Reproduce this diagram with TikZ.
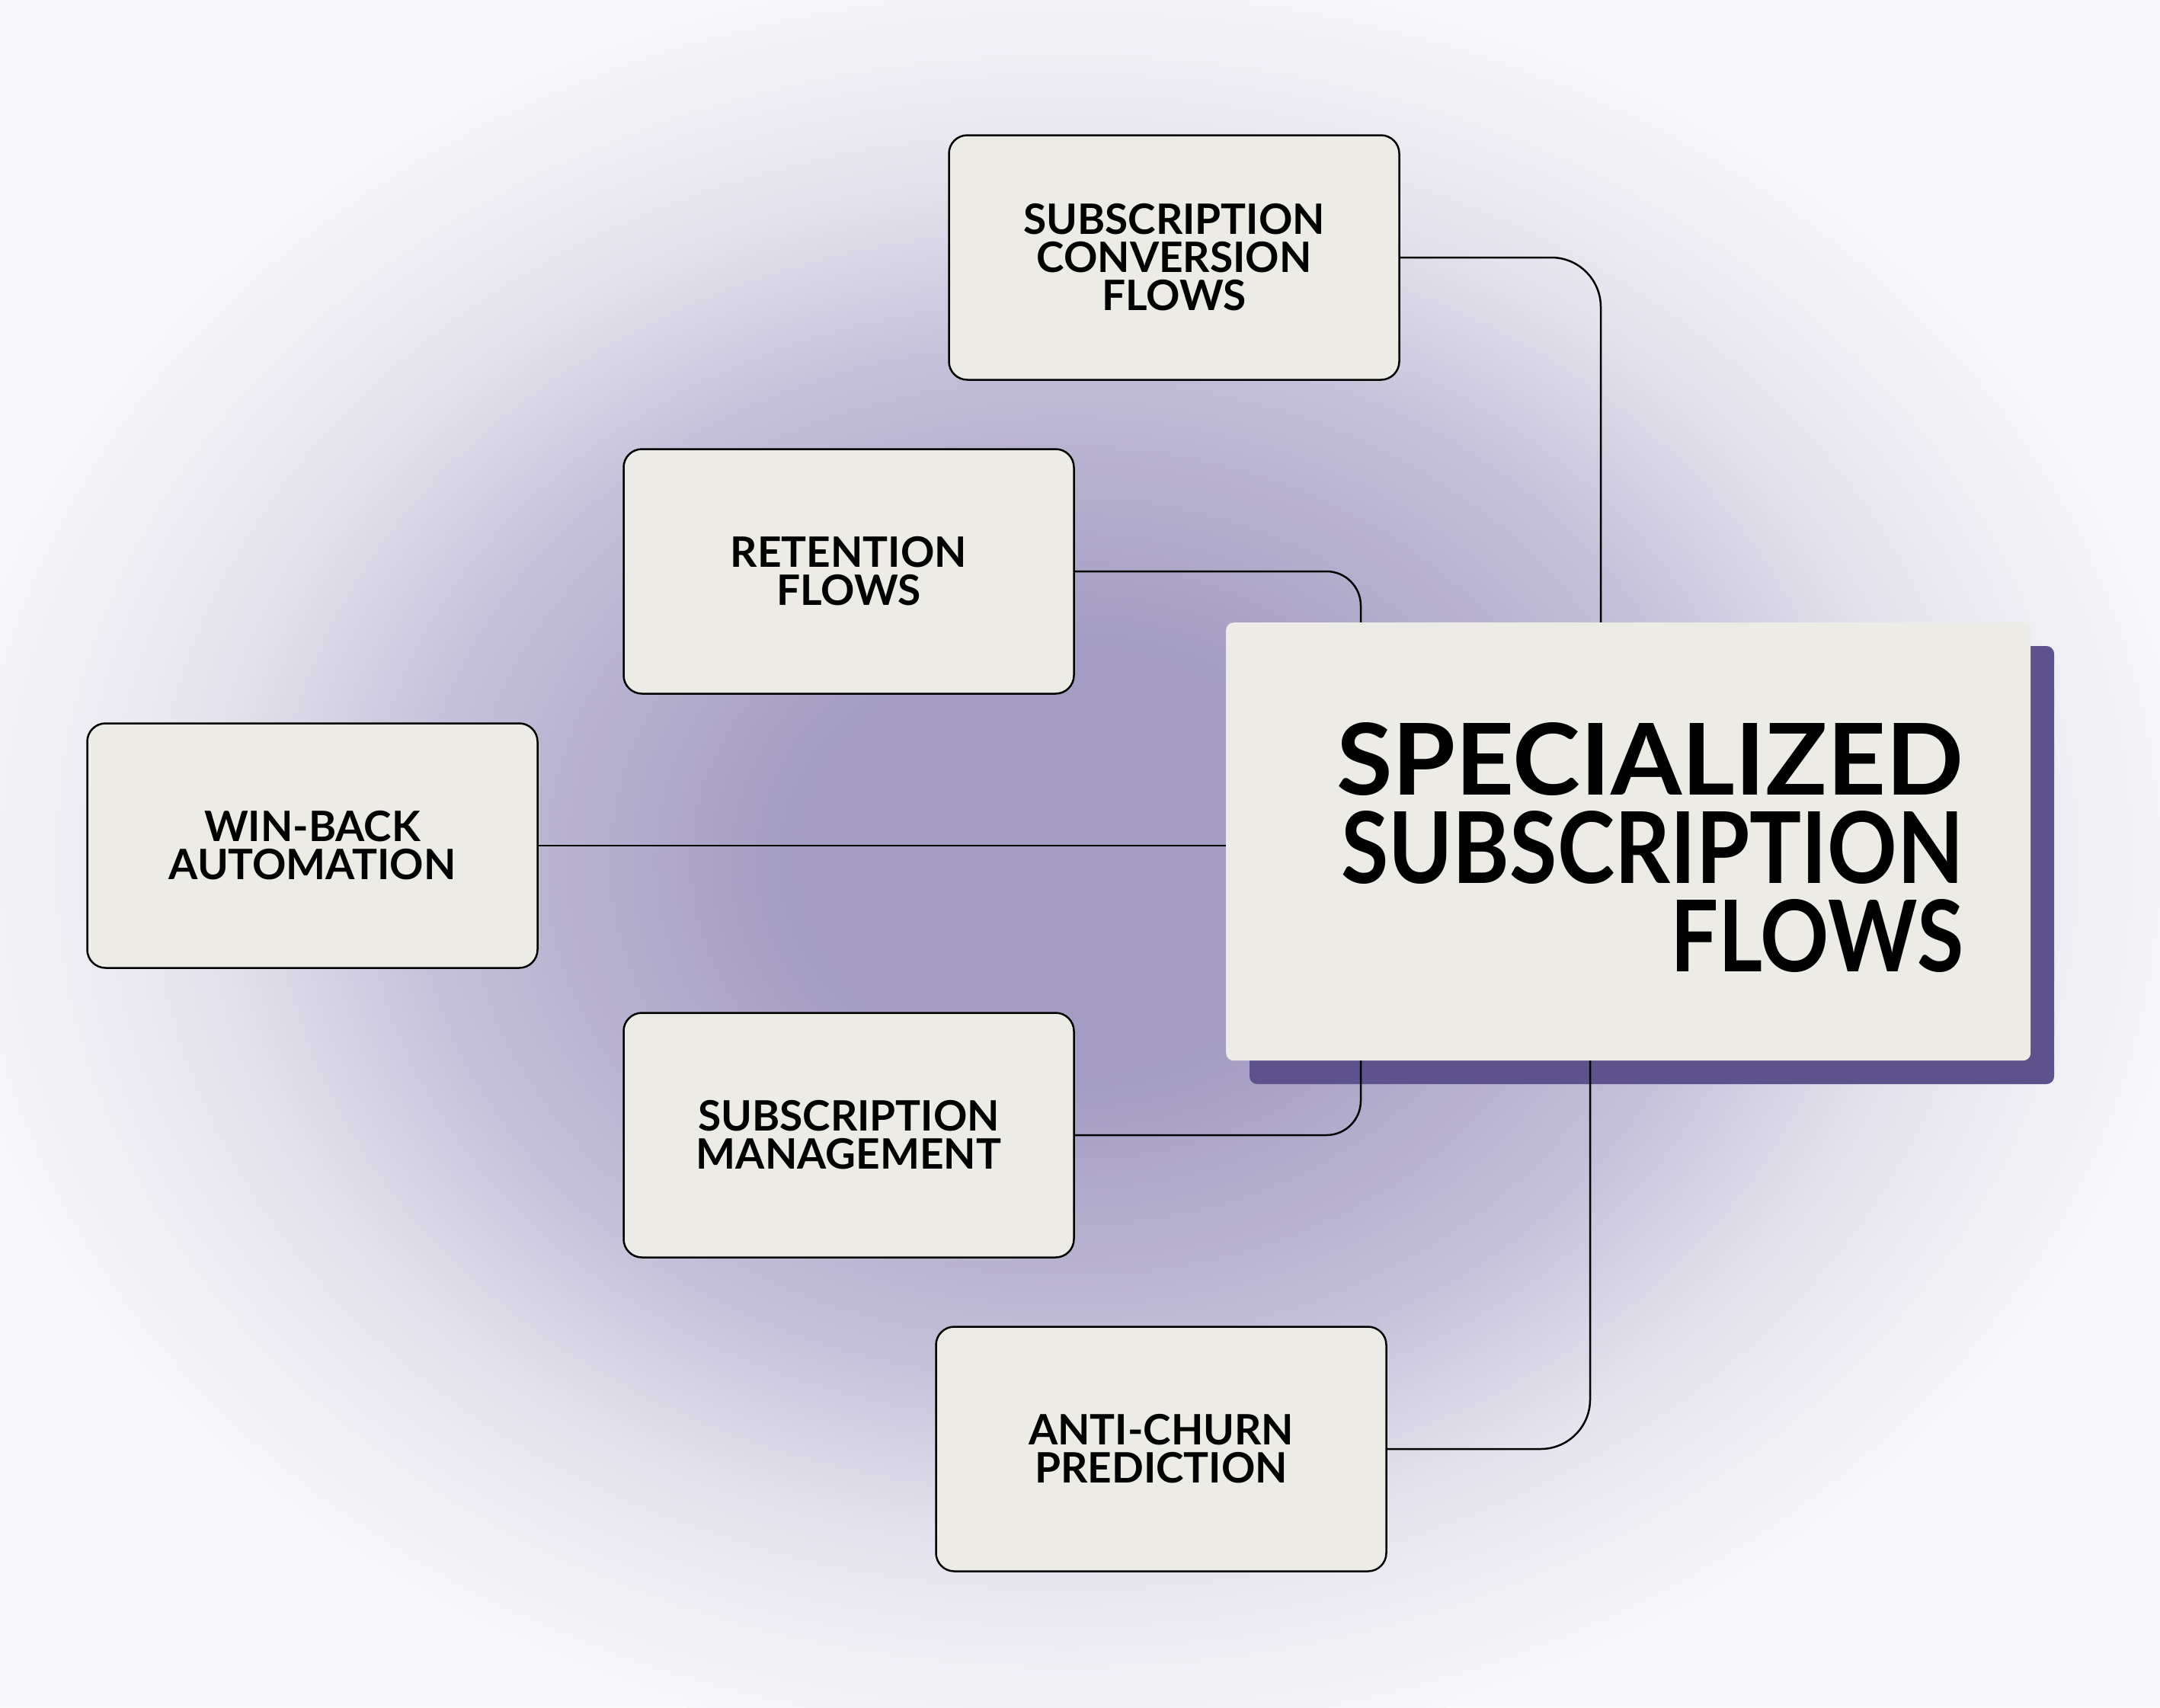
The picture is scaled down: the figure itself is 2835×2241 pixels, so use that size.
\documentclass[tikz,border=0pt]{standalone}
\usepackage{fontspec}
\newfontfamily\lato{Lato}
\usetikzlibrary{calc}
\definecolor{bgout}{RGB}{248,248,250}
\definecolor{bglight}{RGB}{228,226,237}
\definecolor{bgmid}{RGB}{196,191,216}
\definecolor{bgin}{RGB}{164,156,194}
\definecolor{boxfill}{RGB}{236,235,230}
\definecolor{shadowc}{RGB}{94,82,141}
\pgfdeclareradialshading{bgshade}{\pgfpoint{0bp}{0bp}}{color(0bp)=(bgin); color(6bp)=(bgin); color(14bp)=(bgmid); color(19bp)=(bglight); color(25bp)=(bgout); color(100bp)=(bgout)}
\tikzset{
  smallbox/.style={draw=black, line width=2.5pt, fill=boxfill, rounded corners=24pt,
    minimum width=591pt, minimum height=321pt, align=center, inner sep=0pt,
    font=\lato\bfseries\fontsize{55}{50}\selectfont},
  conn/.style={draw=black, line width=2.5pt},
}
\begin{document}
\begin{tikzpicture}[x=1pt,y=-1pt]
\fill[bgout] (0,0) rectangle (2835,2241);
\useasboundingbox (0,0) rectangle (2835,2241);
\shade[shading=bgshade] (1400,1130) ellipse [x radius=1480, y radius=1180];
% shadow
\fill[shadowc, rounded corners=10pt] (1640,848) rectangle (2696,1423);
% nodes
\node[smallbox] (conv) at (1541,338) {SUBSCRIPTION\\CONVERSION\\FLOWS};
\node[smallbox] (ret) at (1114,750) {RETENTION\\FLOWS};
\node[smallbox] (win) at (410,1110) {WIN-BACK\\AUTOMATION};
\node[smallbox] (mgmt) at (1114,1490) {SUBSCRIPTION\\MANAGEMENT};
\node[smallbox] (churn) at (1524,1902) {ANTI-CHURN\\PREDICTION};
% main box corners
\coordinate (mainnw) at (1609,817);
\coordinate (mainsw) at (1609,1392);
% connectors
\draw[conn, rounded corners=65pt] (conv.east) -| ($(mainnw)+(492,0)$);
\draw[conn, rounded corners=45pt] (ret.east) -| ($(mainnw)+(177,0)$);
\draw[conn] (win.east) -- (win.east -| mainnw);
\draw[conn, rounded corners=45pt] (mgmt.east) -| ($(mainsw)+(177,0)$);
\draw[conn, rounded corners=65pt] (churn.east) -| ($(mainsw)+(478,0)$);
% main box
\node[fill=boxfill, rounded corners=10pt, minimum width=1056pt, minimum height=575pt, inner sep=0pt, anchor=north west] (main) at (mainnw) {};
\node[anchor=east, align=right, inner sep=0pt, font=\lato\bfseries\fontsize{130}{116}\selectfont] (title) at ($(main.east)+(-88,8)$) {\resizebox{823pt}{\height}{SPECIALIZED}\\\resizebox{817pt}{\height}{SUBSCRIPTION}\\\resizebox{385pt}{\height}{FLOWS}};
\end{tikzpicture}
\end{document}
